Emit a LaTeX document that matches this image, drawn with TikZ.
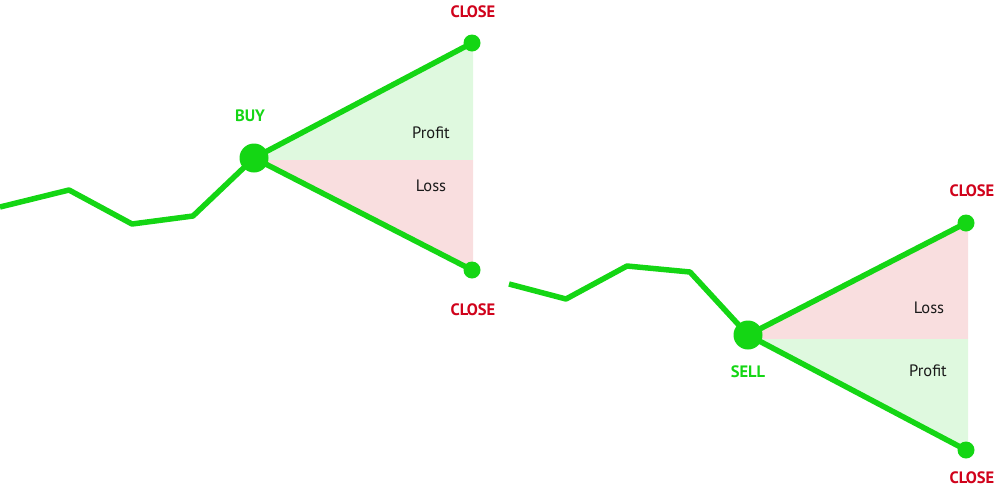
\documentclass[tikz,border=0pt]{standalone}
\usepackage{fontspec}
\setmainfont{PT Sans}
\definecolor{lgreen}{HTML}{14D614}
\definecolor{fgreen}{HTML}{DFF9DF}
\definecolor{fpink}{HTML}{F9DEDF}
\definecolor{cred}{HTML}{D0021B}
\definecolor{ctext}{HTML}{1A1A1A}
\begin{document}
\begin{tikzpicture}[x=1pt,y=-1pt,
  trend/.style={draw=lgreen,line width=5.5pt,line join=round,line cap=round},
  bigdot/.style={circle,fill=lgreen,minimum size=29pt,inner sep=0pt},
  smalldot/.style={circle,fill=lgreen,minimum size=17pt,inner sep=0pt},
  closelbl/.style={text=cred,font=\bfseries\fontsize{16.5}{16.5}\selectfont},
  sidelbl/.style={text=lgreen,font=\bfseries\fontsize{16.5}{16.5}\selectfont},
  arealbl/.style={text=ctext,font=\fontsize{16.5}{16.5}\selectfont}]
\useasboundingbox (0,0) rectangle (998,488);
% fills
\fill[fgreen] (254,158) -- (473,43) -- (473,160) -- (254,160) -- cycle;
\fill[fpink] (254,160) -- (473,160) -- (473,270) -- cycle;
\fill[fpink] (748,335) -- (968,223) -- (968,339) -- (748,339) -- cycle;
\fill[fgreen] (748,339) -- (968,339) -- (968,450) -- cycle;
% dots
\node[bigdot] (buy) at (254,158) {};
\node[smalldot] (c1) at (472,43) {};
\node[smalldot] (c2) at (472,270) {};
\node[bigdot] (sell) at (748,335) {};
\node[smalldot] (c3) at (966,223) {};
\node[smalldot] (c4) at (966,450) {};
\coordinate (a0) at (0,207);
\coordinate (a1) at (69,190);
\coordinate (a2) at (132,224);
\coordinate (a3) at (193,216);
\coordinate (b0) at (509,284);
\coordinate (b1) at (566,299);
\coordinate (b2) at (627,266);
\coordinate (b3) at (690,272);
% lines
\draw[trend,line cap=butt] (a0) -- (a1) -- (a2) -- (a3) -- (buy.center);
\draw[trend] (buy.center) -- (c1.center);
\draw[trend] (buy.center) -- (c2.center);
\draw[trend,line cap=butt] (b0) -- (b1) -- (b2) -- (b3) -- (sell.center);
\draw[trend] (sell.center) -- (c3.center);
\draw[trend] (sell.center) -- (c4.center);
% labels
\node[closelbl] (l1) at (473,12) {CLOSE};
\node[closelbl] (l2) at (473,310) {CLOSE};
\node[closelbl] (l3) at (972,191) {CLOSE};
\node[closelbl] (l4) at (972,478) {CLOSE};
\node[sidelbl] (lb) at (250,116) {BUY};
\node[sidelbl] (ls) at (748,372) {SELL};
\node[arealbl] (p1) at (431,133) {Profit};
\node[arealbl] (s1) at (431,186) {Loss};
\node[arealbl] (s2) at (929,308) {Loss};
\node[arealbl] (p2) at (928,371) {Profit};
\end{tikzpicture}
\end{document}
